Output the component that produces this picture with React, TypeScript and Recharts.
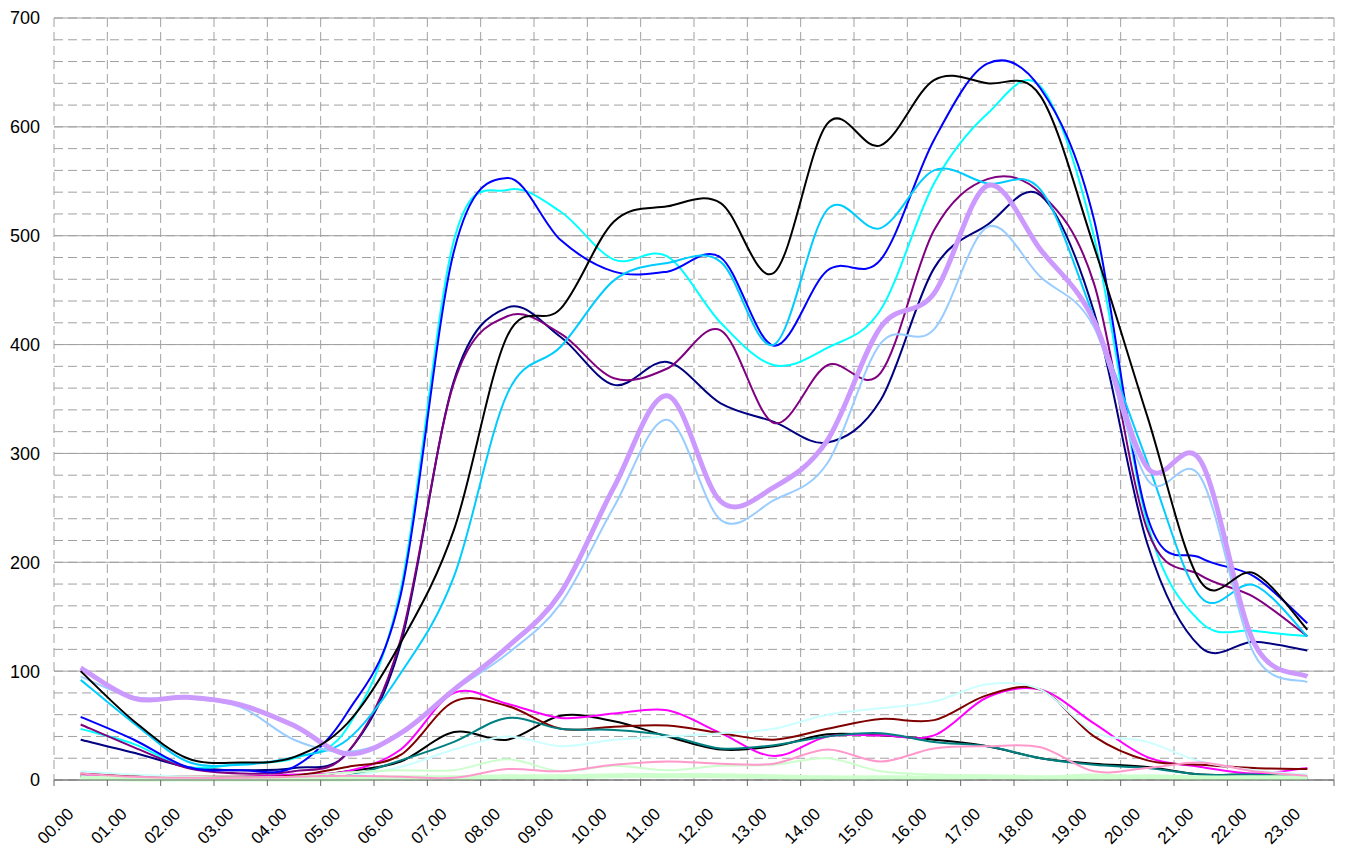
import React from 'react'
import { LineChart, Line, XAxis, YAxis, CartesianGrid } from 'recharts'

const hours = [
  '00.00', '01.00', '02.00', '03.00', '04.00', '05.00', '06.00', '07.00',
  '08.00', '09.00', '10.00', '11.00', '12.00', '13.00', '14.00', '15.00',
  '16.00', '17.00', '18.00', '19.00', '20.00', '21.00', '22.00', '23.00',
]

const yTicks = [0, 100, 200, 300, 400, 500, 600, 700]
const minorTicks = Array.from({ length: 36 }, (_, i) => i * 20)
const hourBounds = Array.from({ length: 25 }, (_, i) => i)
const xTicks = Array.from({ length: 49 }, (_, i) => i / 2)

const blackSmall = [4, 2, 1, 1, 2, 8, 17, 44, 37, 59, 54, 40, 28, 31, 42, 41, 37, 31, 20, 15, 12, 5, 5, 2]
const navy = [37, 25, 12, 9, 11, 25, 125, 367, 434, 407, 363, 384, 346, 329, 310, 349, 470, 510, 537, 430, 217, 122, 127, 119]
const magenta = [4, 3, 2, 3, 5, 8, 28, 80, 70, 57, 61, 64, 43, 22, 40, 41, 41, 76, 83, 52, 21, 12, 6, 11]
const cyan = [47, 33, 12, 15, 20, 48, 175, 496, 542, 522, 478, 481, 420, 381, 397, 432, 548, 612, 637, 499, 236, 145, 137, 132]
const purple = [51, 30, 11, 6, 8, 25, 129, 365, 426, 410, 369, 378, 413, 328, 381, 374, 505, 552, 539, 456, 230, 188, 168, 132]
const darkRed = [6, 4, 3, 3, 4, 12, 23, 72, 68, 47, 49, 50, 43, 37, 47, 56, 55, 78, 83, 40, 18, 14, 11, 10]
const teal = [3, 2, 2, 2, 3, 4, 18, 35, 57, 47, 46, 41, 29, 32, 40, 43, 35, 31, 20, 14, 11, 5, 5, 2]
const blue = [58, 37, 12, 9, 12, 62, 170, 486, 553, 496, 467, 467, 480, 399, 468, 478, 588, 658, 635, 515, 242, 204, 187, 144]
const skyBlue = [92, 52, 17, 14, 21, 37, 98, 187, 355, 398, 459, 475, 476, 400, 524, 507, 560, 548, 542, 425, 292, 168, 179, 132]
const lightCyan = [8, 5, 3, 2, 2, 4, 12, 28, 40, 31, 37, 40, 43, 47, 60, 66, 72, 88, 83, 44, 35, 17, 9, 5]
const lightGreen = [3, 2, 2, 2, 3, 7, 9, 9, 19, 8, 13, 9, 13, 14, 20, 8, 5, 4, 3, 5, 3, 2, 2, 2]
const lightGreenBase = [2, 1, 1, 1, 1, 1, 2, 2, 3, 3, 4, 4, 4, 3, 2, 2, 2, 3, 2, 2, 3, 2, 2, 2]
const paleBlue = [95, 76, 75, 67, 37, 26, 42, 82, 116, 162, 251, 331, 239, 257, 291, 401, 414, 508, 462, 416, 276, 278, 116, 90]
const rose = [6, 3, 2, 2, 3, 4, 3, 2, 10, 8, 14, 17, 15, 15, 28, 17, 29, 31, 30, 8, 11, 16, 8, 4]
const lavender = [103, 75, 76, 69, 50, 24, 43, 83, 122, 172, 269, 353, 256, 269, 312, 416, 447, 546, 487, 422, 287, 293, 126, 95]
const blackMain = [100, 54, 20, 16, 21, 52, 126, 230, 408, 433, 513, 527, 530, 466, 603, 583, 643, 640, 628, 490, 334, 182, 190, 138]

const series = [
  { key: 'blackSmall', values: blackSmall, color: '#000000', width: 2 },
  { key: 'navy', values: navy, color: '#000080', width: 2 },
  { key: 'magenta', values: magenta, color: '#FF00FF', width: 2 },
  { key: 'cyan', values: cyan, color: '#00FFFF', width: 2 },
  { key: 'purple', values: purple, color: '#800080', width: 2 },
  { key: 'darkRed', values: darkRed, color: '#800000', width: 2 },
  { key: 'teal', values: teal, color: '#008080', width: 2 },
  { key: 'blue', values: blue, color: '#0000FF', width: 2 },
  { key: 'skyBlue', values: skyBlue, color: '#00CCFF', width: 2 },
  { key: 'lightCyan', values: lightCyan, color: '#CCFFFF', width: 2 },
  { key: 'lightGreen', values: lightGreen, color: '#CCFFCC', width: 2 },
  { key: 'lightGreenBase', values: lightGreenBase, color: '#CCFFCC', width: 5 },
  { key: 'paleBlue', values: paleBlue, color: '#99CCFF', width: 2 },
  { key: 'rose', values: rose, color: '#FF99CC', width: 2 },
  { key: 'lavender', values: lavender, color: '#CC99FF', width: 5 },
  { key: 'blackMain', values: blackMain, color: '#000000', width: 2 },
]

// one row per hour, placed in the middle of its hour band
const data = hours.map((hour, i) => {
  const row: Record<string, number | string> = { t: i + 0.5, hour }
  series.forEach((s) => { row[s.key] = s.values[i] })
  return row
})

const font = '"Liberation Sans", Arial, sans-serif'

// Catmull-Rom style smoothing, close to Excel's smoothed lines
function smoothCurve(context: any) {
  let pts: number[][] = []
  return {
    areaStart() {},
    areaEnd() {},
    lineStart() { pts = [] },
    point(x: number, y: number) { pts.push([+x, +y]) },
    lineEnd() {
      const n = pts.length
      if (!n) return
      context.moveTo(pts[0][0], pts[0][1])
      for (let i = 0; i < n - 1; i++) {
        const p0 = pts[Math.max(i - 1, 0)]
        const p1 = pts[i]
        const p2 = pts[i + 1]
        const p3 = pts[Math.min(i + 2, n - 1)]
        context.bezierCurveTo(
          p1[0] + (p2[0] - p0[0]) / 6, p1[1] + (p2[1] - p0[1]) / 6,
          p2[0] - (p3[0] - p1[0]) / 6, p2[1] - (p3[1] - p1[1]) / 6,
          p2[0], p2[1],
        )
      }
    },
  }
}

function HourTick(props: any) {
  const { x, y, payload } = props
  const v = payload.value
  if (Number.isInteger(v)) {
    return <line x1={x} x2={x} y1={y} y2={y + 6} stroke="#666" strokeWidth={1} />
  }
  const ax = x - 6
  const ay = y + 35
  return (
    <text
      x={ax}
      y={ay}
      transform={`rotate(-45 ${ax} ${ay})`}
      textAnchor="end"
      fontSize={17}
      fontFamily={font}
      fill="#000"
    >
      {hours[Math.floor(v)]}
    </text>
  )
}

export default function App() {
  return (
    <div style={{ position: 'absolute', left: 0, top: 0, background: '#fff' }}>
      <LineChart width={1345} height={851} data={data} margin={{ top: 18, right: 11, bottom: 0, left: 0 }}>
        <CartesianGrid
          horizontalValues={minorTicks}
          verticalValues={hourBounds}
          stroke="#a0a0a0"
          strokeDasharray="9 5"
        />
        <CartesianGrid vertical={false} horizontalValues={yTicks} stroke="#a0a0a0" />
        <XAxis
          dataKey="t"
          type="number"
          domain={[0, 24]}
          ticks={xTicks}
          interval={0}
          height={71}
          tickSize={0}
          tickMargin={0}
          tickLine={false}
          axisLine={{ stroke: '#666' }}
          tick={<HourTick />}
        />
        <YAxis
          domain={[0, 700]}
          ticks={yTicks}
          interval={0}
          width={54}
          tickSize={0}
          tickMargin={14}
          tickLine={false}
          axisLine={false}
          tick={{ fontSize: 18, fill: '#000', fontFamily: font }}
        />
        {series.map((s) => (
          <Line
            key={s.key}
            dataKey={s.key}
            type={smoothCurve as any}
            stroke={s.color}
            strokeWidth={s.width}
            dot={false}
            activeDot={false}
            isAnimationActive={false}
          />
        ))}
      </LineChart>
    </div>
  )
}
